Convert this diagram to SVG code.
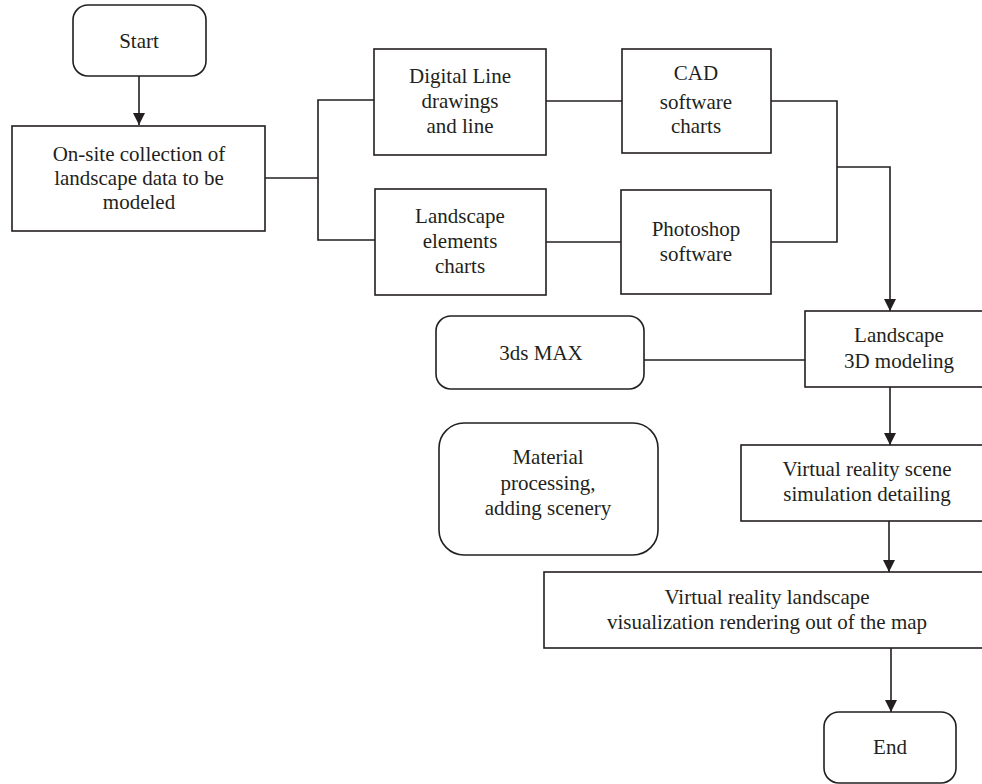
<svg xmlns="http://www.w3.org/2000/svg" width="982" height="784" viewBox="0 0 982 784">
<defs>
<style>
.box{fill:#fff;stroke:#231f20;stroke-width:1.6}
.c{fill:none;stroke:#231f20;stroke-width:1.6}
.t text{font-size:21px;fill:#231f20;text-anchor:middle}
</style>
<marker id="ah" markerWidth="12" markerHeight="12" viewBox="0 0 12 12" refX="12" refY="6" orient="auto" markerUnits="userSpaceOnUse">
<path d="M0,0 L12,6 L0,12 Z" fill="#231f20"/>
</marker>
</defs>
<rect width="982" height="784" fill="#fff"/>
<g id="connectors">
<path class="c" d="M139,76 V125" marker-end="url(#ah)"/>
<path class="c" d="M265,178 H318"/>
<path class="c" d="M374,100 H318 V240 H375"/>
<path class="c" d="M546,101 H622"/>
<path class="c" d="M546,242 H621"/>
<path class="c" d="M771,101 H837 V242 H771"/>
<path class="c" d="M837,167 H890 V311" marker-end="url(#ah)"/>
<path class="c" d="M644,360 H805"/>
<path class="c" d="M890,387 V445" marker-end="url(#ah)"/>
<path class="c" d="M889,521 V572" marker-end="url(#ah)"/>
<path class="c" d="M891,648 V712" marker-end="url(#ah)"/>
</g>
<g class="t" font-family="'Liberation Serif', 'Times New Roman', serif">
<g id="start"><rect class="box" x="73" y="5" width="133" height="71" rx="15"/><text x="139" y="48">Start</text></g>
<g id="onsite"><rect class="box" x="12" y="126" width="253" height="105"/>
<text x="139" y="161">On-site collection of</text><text x="139" y="185">landscape data to be</text><text x="139" y="209">modeled</text></g>
<g id="digital"><rect class="box" x="374" y="49" width="172" height="106"/>
<text x="460" y="83">Digital Line</text><text x="460" y="108">drawings</text><text x="460" y="133">and line</text></g>
<g id="elements"><rect class="box" x="375" y="189" width="171" height="106"/>
<text x="460" y="223">Landscape</text><text x="460" y="248">elements</text><text x="460" y="273">charts</text></g>
<g id="cad"><rect class="box" x="622" y="49" width="149" height="104"/>
<text x="696" y="80">CAD</text><text x="696" y="109">software</text><text x="696" y="133">charts</text></g>
<g id="photoshop"><rect class="box" x="621" y="190" width="150" height="104"/>
<text x="696" y="236">Photoshop</text><text x="696" y="261">software</text></g>
<g id="max"><rect class="box" x="436" y="316" width="208" height="73" rx="15"/><text x="541" y="360">3ds MAX</text></g>
<g id="modeling"><rect class="box" x="805" y="311" width="190" height="76"/>
<text x="899" y="342">Landscape</text><text x="899" y="368">3D modeling</text></g>
<g id="material"><rect class="box" x="439" y="423" width="219" height="132" rx="25"/>
<text x="548" y="464">Material</text><text x="548" y="490">processing,</text><text x="548" y="515">adding scenery</text></g>
<g id="scene"><rect class="box" x="741" y="445" width="254" height="76"/>
<text x="867" y="476">Virtual reality scene</text><text x="867" y="501">simulation detailing</text></g>
<g id="render"><rect class="box" x="544" y="572" width="450" height="76"/>
<text x="767" y="604">Virtual reality landscape</text><text x="767" y="629">visualization rendering out of the map</text></g>
<g id="end"><rect class="box" x="824" y="712" width="132" height="71" rx="15"/><text x="890" y="754">End</text></g>
</g>
</svg>
